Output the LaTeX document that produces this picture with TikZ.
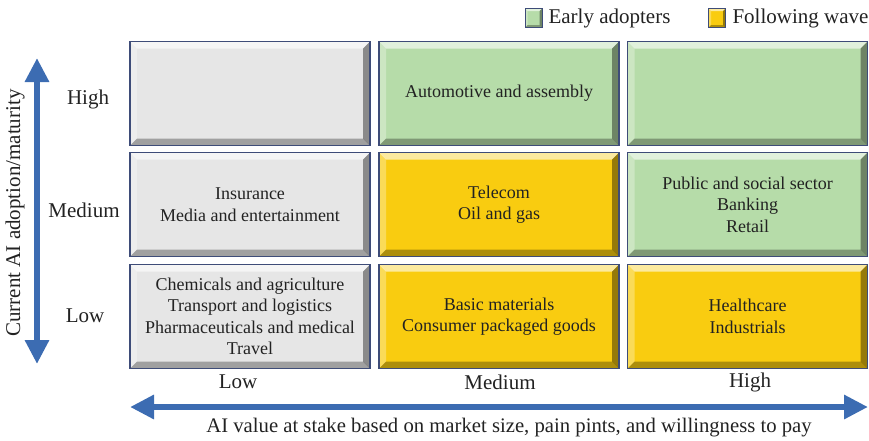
\documentclass[tikz,border=0pt]{standalone}
\usepackage{fontspec}
\setmainfont{Liberation Serif}
\usepackage{xcolor}
\usetikzlibrary{arrows.meta}

\definecolor{cellgray}{HTML}{E6E6E6}
\definecolor{cellgreen}{HTML}{B6DCA9}
\definecolor{cellyellow}{HTML}{F9CC10}
\definecolor{cellline}{HTML}{3E4C78}
\definecolor{axisblue}{HTML}{3C6CB2}
\definecolor{txt}{HTML}{222222}

\tikzset{
  bevel/.style={path picture={
    \fill[white,opacity=0.6] (path picture bounding box.north west) -- (path picture bounding box.north east)
      -- ([xshift=-#1,yshift=-#1]path picture bounding box.north east) -- ([xshift=#1,yshift=-#1]path picture bounding box.north west) -- cycle;
    \fill[white,opacity=0.3] (path picture bounding box.north west) -- ([xshift=#1,yshift=-#1]path picture bounding box.north west)
      -- ([xshift=#1,yshift=#1]path picture bounding box.south west) -- (path picture bounding box.south west) -- cycle;
    \fill[black,opacity=0.3] (path picture bounding box.south west) -- (path picture bounding box.south east)
      -- ([xshift=-#1,yshift=#1]path picture bounding box.south east) -- ([xshift=#1,yshift=#1]path picture bounding box.south west) -- cycle;
    \fill[black,opacity=0.4] (path picture bounding box.north east) -- ([xshift=-#1,yshift=-#1]path picture bounding box.north east)
      -- ([xshift=-#1,yshift=#1]path picture bounding box.south east) -- (path picture bounding box.south east) -- cycle;
  }},
  cell/.style={draw=cellline, line width=1.2pt, fill=#1, bevel=7pt, minimum width=240pt, minimum height=104pt,
    align=center, text=txt, font=\fontsize{18}{21.5}\selectfont, inner sep=0pt},
  key/.style={draw=cellline, line width=1pt, fill=#1, bevel=2.5pt, minimum width=17pt, minimum height=19pt, inner sep=0pt},
  lbl/.style={text=txt, font=\fontsize{21}{25}\selectfont},
  axis/.style={draw=axisblue, line width=6pt, {Triangle[width=23pt,length=24pt]}-{Triangle[width=23pt,length=24pt]}, shorten <=-2pt, shorten >=-2pt}
}

\begin{document}
\begin{tikzpicture}[x=1pt, y=-1pt]
  \useasboundingbox (0,0) rectangle (869,440);

  % Legend
  \node[key=cellgreen] (keyearly) at (533.5,18) {};
  \node[lbl, anchor=west] (early) at (545,18) {Early adopters};
  \node[key=cellyellow] (keyfollow) at (717,18) {};
  \node[lbl, anchor=west] (follow) at (729,18) {Following wave};

  % Cells
  \node[cell=cellgray] (lowhigh) at (250,93.5) {};
  \node[cell=cellgreen] (medhigh) at (499,93.5) {Automotive and assembly};
  \node[cell=cellgreen] (highhigh) at (747.5,93.5) {};

  \node[cell=cellgray] (lowmed) at (250,204.5) {Insurance\\Media and entertainment};
  \node[cell=cellyellow] (medmed) at (499,204.5) {Telecom\\Oil and gas};
  \node[cell=cellgreen] (highmed) at (747.5,204.5) {Public and social sector\\Banking\\Retail};

  \node[cell=cellgray] (lowlow) at (250,316.5) {Chemicals and agriculture\\Transport and logistics\\Pharmaceuticals and medical\\Travel};
  \node[cell=cellyellow] (medlow) at (499,316.5) {Basic materials\\Consumer packaged goods};
  \node[cell=cellyellow] (highlow) at (747.5,316.5) {Healthcare\\Industrials};

  % Axis labels
  \node[lbl] (yhigh) at (88,99) {High};
  \node[lbl] (ymed) at (84,210) {Medium};
  \node[lbl] (ylow) at (85,316) {Low};
  \node[lbl] (xlow) at (238,382) {Low};
  \node[lbl] (xmed) at (500,382) {Medium};
  \node[lbl] (xhigh) at (750,382) {High};

  % Axes
  \coordinate (ytop) at (37,60);
  \coordinate (ybot) at (37,362);
  \coordinate (xleft) at (132,407);
  \coordinate (xright) at (866,407);
  \draw[axis] (ybot) -- (ytop);
  \draw[axis] (xleft) -- (xright);
  \node[lbl, rotate=90] (ytitle) at (15,213) {Current AI adoption/maturity};
  \node[lbl, font=\fontsize{20.7}{25}\selectfont] (xtitle) at (509,428) {AI value at stake based on market size, pain pints, and willingness to pay};
\end{tikzpicture}
\end{document}
